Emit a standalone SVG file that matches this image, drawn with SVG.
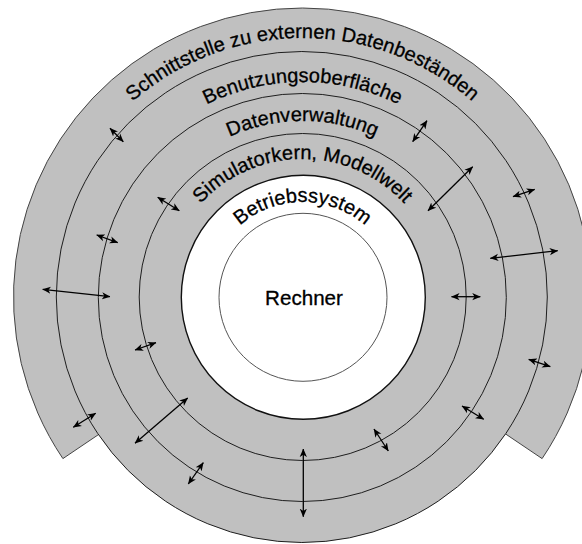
<svg xmlns="http://www.w3.org/2000/svg" width="582" height="544" viewBox="0 0 582 544">
  <style>
    .ring { fill: #c0c0c0; stroke: #1e1e1e; stroke-width: 1; }
    .outer { fill: #c0c0c0; stroke: #444; stroke-width: 1; }
    .core { fill: #ffffff; stroke: #111; stroke-width: 1.4; }
    .cpu { fill: #ffffff; stroke: #555; stroke-width: 1; }
    .lbl { font-family: "Liberation Sans", Arial, sans-serif; font-size: 20px; fill: #000; stroke: #000; stroke-width: 0.3; }
    .link { stroke: #000; stroke-width: 1.3; fill: none; marker-start: url(#head); marker-end: url(#head); }
  </style>
  <defs>
    <marker id="head" viewBox="0 0 8 8" markerWidth="8.5" markerHeight="8.5" refX="7.6" refY="4" orient="auto-start-reverse" markerUnits="userSpaceOnUse">
      <path d="M0,0.6 L8,4 L0,7.4 L2.2,4 Z" fill="#000"/>
    </marker>
    <!-- upper half circles used as text baselines, centre (302.5, 297) -->
    <path id="arcSchnitt" d="M43.5,297 A259,259 0 0 1 561.5,297"/>
    <path id="arcBenutz" d="M87.5,297 A215,215 0 0 1 517.5,297"/>
    <path id="arcDaten" d="M126.5,297 A176,176 0 0 1 478.5,297"/>
    <path id="arcSim" d="M164.5,297 A138,138 0 0 1 440.5,297"/>
    <path id="arcBetr" d="M207.5,297 A95,95 0 0 1 397.5,297"/>
  </defs>

  <!-- outermost layer: open at the bottom between 34 and 146 degrees -->
  <g id="schnittstelle">
    <path class="outer" d="M302.5,297 L542.1,458.6 A289,289 0 1 0 62.9,458.6 Z"/>
    <text class="lbl"><textPath href="#arcSchnitt" startOffset="50%" text-anchor="middle">Schnittstelle zu externen Datenbeständen</textPath></text>
  </g>

  <g id="benutzungsoberflaeche">
    <circle class="ring" cx="301.8" cy="297" r="245.5"/>
    <text class="lbl"><textPath href="#arcBenutz" startOffset="50%" text-anchor="middle">Benutzungsoberfläche</textPath></text>
  </g>

  <g id="datenverwaltung">
    <circle class="ring" cx="302.3" cy="297.5" r="204"/>
    <text class="lbl"><textPath href="#arcDaten" startOffset="50%" text-anchor="middle">Datenverwaltung</textPath></text>
  </g>

  <g id="simulatorkern">
    <circle class="ring" cx="302.7" cy="297" r="163.5"/>
    <text class="lbl"><textPath href="#arcSim" startOffset="50%" text-anchor="middle">Simulatorkern, Modellwelt</textPath></text>
  </g>

  <g id="betriebssystem">
    <circle class="core" cx="303.3" cy="297.3" r="122"/>
    <text class="lbl"><textPath href="#arcBetr" startOffset="50%" text-anchor="middle">Betriebssystem</textPath></text>
  </g>

  <g id="rechner">
    <circle class="cpu" cx="303" cy="297.3" r="84"/>
    <text class="lbl" x="304" y="305" text-anchor="middle" style="font-size:20.6px">Rechner</text>
  </g>

  <!-- double-headed links between the layers -->
  <g id="connectors">
    <line class="link" x1="110" y1="128.3" x2="123.3" y2="141.7"/>
    <line class="link" x1="427" y1="120.7" x2="412.7" y2="141.7"/>
    <line class="link" x1="472.7" y1="166.7" x2="428" y2="210.7"/>
    <line class="link" x1="157.7" y1="197.3" x2="179.3" y2="210.7"/>
    <line class="link" x1="534.7" y1="189.3" x2="513" y2="196.7"/>
    <line class="link" x1="96.7" y1="235" x2="117.7" y2="242.7"/>
    <line class="link" x1="490.3" y1="258.3" x2="557.7" y2="250.7"/>
    <line class="link" x1="42.7" y1="289.3" x2="110" y2="296.7"/>
    <line class="link" x1="451.5" y1="296.7" x2="480.3" y2="296.7"/>
    <line class="link" x1="135" y1="350" x2="156" y2="342.7"/>
    <line class="link" x1="528.7" y1="359.3" x2="550.3" y2="366.7"/>
    <line class="link" x1="73.3" y1="427.3" x2="95.7" y2="413.3"/>
    <line class="link" x1="187.7" y1="398" x2="135" y2="443.3"/>
    <line class="link" x1="462" y1="406" x2="483.7" y2="419.3"/>
    <line class="link" x1="374" y1="429" x2="388.3" y2="451"/>
    <line class="link" x1="203.3" y1="462.7" x2="188.3" y2="484"/>
    <line class="link" x1="303.3" y1="449" x2="303.3" y2="516.7"/>
  </g>
</svg>
